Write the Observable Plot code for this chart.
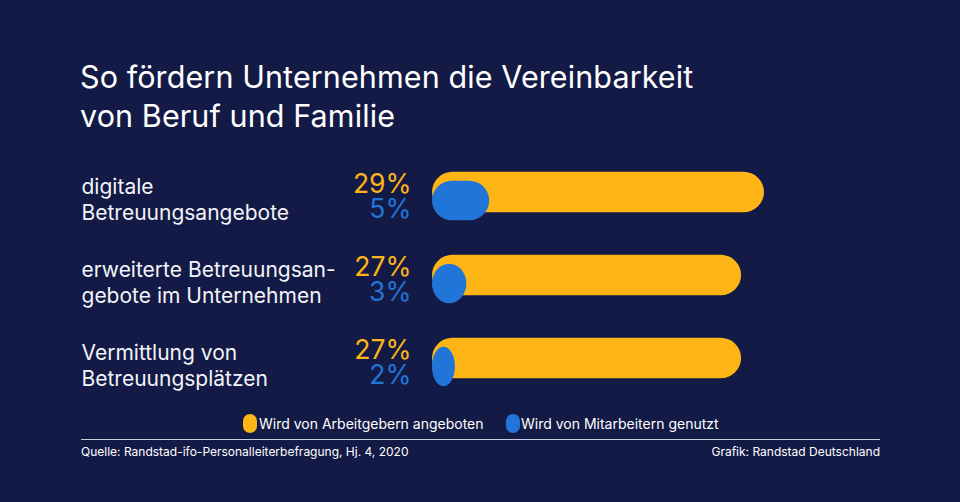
<!DOCTYPE html>
<html>
<head>
<meta charset="utf-8">
<script src="https://cdn.jsdelivr.net/npm/d3@7"></script>
<script src="https://cdn.jsdelivr.net/npm/@observablehq/plot@0.6"></script>
<style>
  html, body { margin: 0; padding: 0; }
  body { width: 960px; height: 502px; overflow: hidden; background: #131a45; font-family: Inter, "Noto Sans", sans-serif; }
  #wrap { position: relative; width: 960px; height: 502px; background: #131a45; }
  #chart { position: absolute; left: 0; top: 0; }
  .title { position: absolute; left: 80px; top: 57px; color: #ffffff; font-size: 30.5px; line-height: 39px; font-weight: 400; letter-spacing: 0.1px; white-space: nowrap; }
  .legend { position: absolute; top: 414px; font-size: 14px; color: #ffffff; line-height: 19px; white-space: nowrap; }
  .pill { position: absolute; top: 414px; width: 14px; height: 19px; border-radius: 7px; }
  .rule { position: absolute; left: 81px; top: 439px; width: 799px; height: 1px; background: #c9cde2; }
  .foot { position: absolute; top: 445px; font-size: 12px; color: #ffffff; line-height: 14px; white-space: nowrap; }
</style>
</head>
<body>
<div id="wrap">
  <div id="chart"></div>
  <div class="title">So fördern Unternehmen die Vereinbarkeit<br>von Beruf und Familie</div>
  <div class="pill" style="left:243px;background:#fdb515"></div>
  <div class="legend" style="left:259px">Wird von Arbeitgebern angeboten</div>
  <div class="pill" style="left:506px;background:#2175d9"></div>
  <div class="legend" style="left:521px">Wird von Mitarbeitern genutzt</div>
  <div class="rule"></div>
  <div class="foot" style="left:81px">Quelle: Randstad-ifo-Personalleiterbefragung, Hj. 4, 2020</div>
  <div class="foot" style="right:80px">Grafik: Randstad Deutschland</div>
</div>
<script>
const categories = [
  "digitale\nBetreuungsangebote",
  "erweiterte Betreuungsan-\ngebote im Unternehmen",
  "Vermittlung von\nBetreuungsplätzen"
];
const offered = [29, 27, 27];   // Wird von Arbeitgebern angeboten (%)
const used = [5, 3, 2];         // Wird von Mitarbeitern genutzt (%)

const YELLOW = "#fdb515";
const BLUE = "#2175d9";

const data = categories.map((c, i) => ({cat: c, offered: offered[i], used: used[i]}));

const chart = Plot.plot({
  width: 960,
  height: 502,
  marginLeft: 0, marginRight: 0, marginTop: 0, marginBottom: 0,
  style: {background: "transparent", fontFamily: "Inter, 'Noto Sans', sans-serif", color: "#ffffff"},
  x: {domain: [0, 29], range: [432, 764], axis: null},
  y: {domain: categories, range: [154.25, 404.75], padding: 0, axis: null},
  marks: [
    Plot.barX(data, {x: "offered", y: "cat", fill: YELLOW, rx: 20.5, insetTop: 21.25, insetBottom: 21.25, dy: -4.5}),
    Plot.barX(data, {x: "used", y: "cat", fill: BLUE, rx: 20, insetTop: 21.75, insetBottom: 21.75, dy: 4}),
    Plot.text(data, {x: 0, y: "cat", text: d => d.offered + "%", fill: YELLOW, textAnchor: "end", dx: -21, dy: -12, fontSize: 26.5}),
    Plot.text(data, {x: 0, y: "cat", text: d => d.used + "%", fill: BLUE, textAnchor: "end", dx: -21, dy: 13, fontSize: 26.5}),
    Plot.text(data, {x: 0, y: "cat", text: "cat", fill: "#f2f3f8", textAnchor: "start", dx: -351, dy: 1.5, fontSize: 21, lineHeight: 1.25})
  ]
});
document.getElementById("chart").appendChild(chart);
</script>
</body>
</html>
